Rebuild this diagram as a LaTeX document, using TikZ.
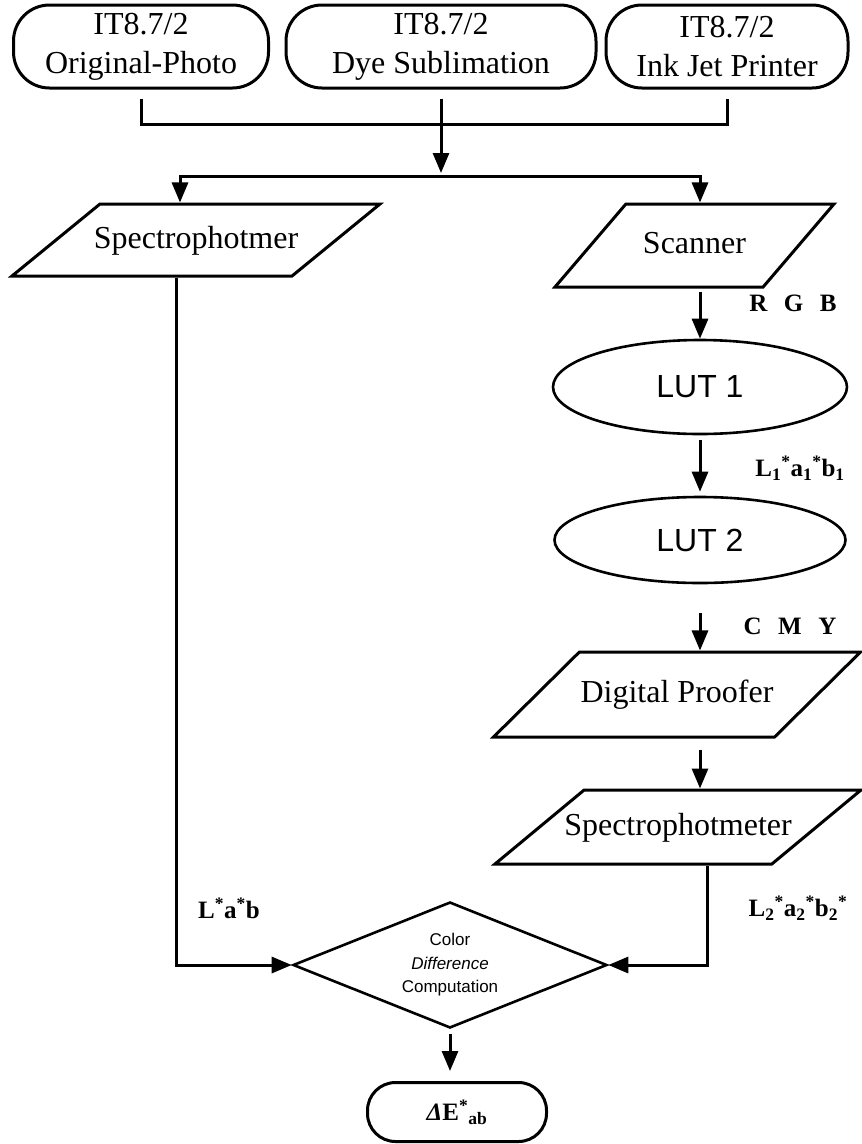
\documentclass[tikz,border=0pt]{standalone}
\usepackage{fontspec}
\usepackage{tikz}
\usetikzlibrary{arrows.meta,shapes.geometric}

\setmainfont{Liberation Serif}
\newfontfamily\lutfont{Liberation Sans}

\begin{document}
\begin{tikzpicture}[
  x=1pt, y=-1pt,
  >={Triangle[length=20pt,width=16pt]},
  line join=miter,
  every node/.style={font=\fontsize{32}{39}\selectfont},
  conn/.style={line width=3pt},
  source/.style={draw, line width=3pt, rounded corners=36pt, align=center,
    minimum height=83pt, inner sep=0pt},
  device/.style={draw, line width=3pt, trapezium, trapezium stretches body,
    text height=23pt, text depth=7pt, inner xsep=-30pt},
  lut/.style={draw, ellipse, line width=2.6pt, inner sep=0pt,
    font=\lutfont\fontsize{32}{38}\selectfont},
  tag/.style={font=\bfseries\fontsize{25}{30}\selectfont, inner sep=0pt}
]
  \useasboundingbox (0,0) rectangle (862,1144);

  % Test charts
  \node[source, minimum width=255pt] (orig) at (141,46.5) {IT8.7/2\\Original-Photo};
  \node[source, minimum width=310pt] (dye)  at (441,46.5) {IT8.7/2\\Dye Sublimation};
  \node[source, minimum width=242pt] (ink)  at (727,46.5) {IT8.7/2\\Ink Jet Printer};

  \coordinate (merge) at (441,124);
  \coordinate (split) at (441,176);

  % Measuring devices and look-up tables
  \node[device, trapezium left angle=39.3, trapezium right angle=140.7,
    inner ysep=21pt, minimum width=368pt] (spec1) at (196,240) {Spectrophotmer};
  \node[device, trapezium left angle=49.5, trapezium right angle=130.5,
    inner ysep=26.5pt, minimum width=279pt] (scan) at (694.5,245.5) {Scanner};
  \node[lut, minimum width=294pt, minimum height=94pt] (lut1) at (700,387) {LUT 1};
  \node[lut, minimum width=291pt, minimum height=86pt] (lut2) at (700,540) {LUT 2};
  \node[device, trapezium left angle=44.7, trapezium right angle=135.3,
    inner ysep=27.5pt, minimum width=367pt] (proof) at (677,694.5) {Digital Proofer};
  \node[device, trapezium left angle=39.7, trapezium right angle=140.3,
    inner ysep=22pt, minimum width=366pt] (spec2) at (678,827) {Spectrophotmeter};

  % Comparison
  \node[draw, diamond, aspect=2.5, line width=2.6pt, inner sep=0pt,
    minimum width=314pt, minimum height=126pt, align=center,
    font=\lutfont\fontsize{17}{23.5}\selectfont] (diff) at (450,965)
    {Color\\\textit{Difference}\\Computation};
  \node[draw, line width=3pt, rounded corners=28pt, minimum width=179pt,
    minimum height=59pt, tag] (dE) at (457,1112)
    {\textit{Δ}E\textsuperscript{*}\textsubscript{ab}};

  % Data labels
  \node[tag] (rgb)  at (793,303) {R\hspace{.66em}G\hspace{.66em}B};
  \node[tag] (lab1) at (800,468)
    {L\textsubscript{1}\textsuperscript{*}a\textsubscript{1}\textsuperscript{*}b\textsubscript{1}};
  \node[tag] (cmy)  at (790,626) {C\hspace{.66em}M\hspace{.66em}Y};
  \node[tag] (lab0) at (229,908) {L\textsuperscript{*}a\textsuperscript{*}b};
  \node[tag] (lab2) at (798,908)
    {L\textsubscript{2}\textsuperscript{*}a\textsubscript{2}\textsuperscript{*}b\textsubscript{2}\textsuperscript{*}};

  % Connectors
  \draw[conn, shorten <=9pt, shorten >=9pt] (orig.south) |- (merge) -| (ink.south);
  \draw[conn, ->, shorten <=9pt, shorten >=3pt] (dye.south) -- (split);
  \draw[conn, ->] (split) -| ([xshift=-16pt]spec1.center |- spec1.north);
  \draw[conn, ->] (split) -| (lut1.center |- scan.north);
  \draw[conn, ->, shorten <=3pt] (lut1.center |- scan.south) -- (lut1.north);
  \draw[conn, ->, shorten <=5pt, shorten >=4pt] (lut1.south) -- (lut2.north);
  \draw[conn, ->, shorten <=29pt] (lut2.south) -- (lut2.south |- proof.north);
  \draw[conn, ->, shorten <=11pt] (lut2.center |- proof.south) -- (lut2.center |- spec2.north);
  \draw[conn, ->] ([xshift=-20pt]spec1.center |- spec1.south) |- (diff.west);
  \draw[conn, ->] ([xshift=29pt]spec2.center |- spec2.south) |- (diff.east);
  \draw[conn, ->, shorten <=5pt, shorten >=10pt] (diff.south) -- (diff.south |- dE.north);
\end{tikzpicture}
\end{document}
